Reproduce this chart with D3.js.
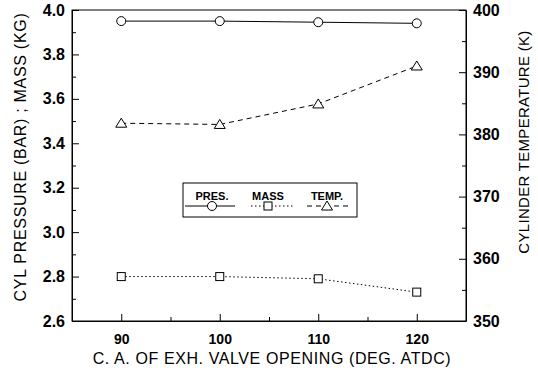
<!DOCTYPE html>
<html>
<head>
<meta charset="utf-8">
<script src="https://cdn.jsdelivr.net/npm/d3@7"></script>
<style>
  body { margin: 0; background: #fff; }
  svg { display: block; font-family: "Liberation Sans", Arial, sans-serif; }
</style>
</head>
<body>
<div id="chart"></div>
<script>
// values
var angles = [90, 100, 110, 120];
var pressure = [3.95, 3.95, 3.945, 3.94];     // bar, left axis
var mass = [2.80, 2.80, 2.79, 2.73];          // kg, left axis
var temperature = [381.8, 381.6, 384.9, 391.0]; // K, right axis

var xTicks = [90, 100, 110, 120];
var leftTicks = [2.6, 2.8, 3.0, 3.2, 3.4, 3.6, 3.8, 4.0];
var rightTicks = [350, 360, 370, 380, 390, 400];
var legendLabels = ["PRES.", "MASS", "TEMP."];

var W = 538, H = 368;
var svg = d3.select('#chart').append('svg')
  .attr('width', W).attr('height', H);

var x = d3.scaleLinear().domain([85, 125]).range([72, 466]);
var yL = d3.scaleLinear().domain([2.6, 4.0]).range([321, 10]);
var yR = d3.scaleLinear().domain([350, 400]).range([321, 10]);

// minor ticks first (no labels)
svg.append('g').attr('transform', 'translate(0,321)')
  .call(d3.axisBottom(x).tickValues([85, 95, 105, 115, 125]).tickSize(-4).tickFormat(''))
  .call(function (g) { g.select('.domain').remove(); });
svg.append('g').attr('transform', 'translate(72,0)')
  .call(d3.axisLeft(yL).tickValues(d3.range(2.7, 4.0, 0.2)).tickSize(-4).tickFormat(''))
  .call(function (g) { g.select('.domain').remove(); });
svg.append('g').attr('transform', 'translate(466,0)')
  .call(d3.axisRight(yR).tickValues([355, 365, 375, 385, 395]).tickSize(-4).tickFormat(''))
  .call(function (g) { g.select('.domain').remove(); });

// major axes
var xAxis = svg.append('g').attr('transform', 'translate(0,321)')
  .call(d3.axisBottom(x).tickValues(xTicks).tickSizeInner(-7).tickSizeOuter(0).tickPadding(13));
xAxis.selectAll('text').style('font-size', '14px').style('font-weight', 'bold');

var lAxis = svg.append('g').attr('transform', 'translate(72,0)')
  .call(d3.axisLeft(yL).tickValues(leftTicks).tickSizeInner(-7).tickSizeOuter(0).tickPadding(7)
    .tickFormat(d3.format('.1f')));
lAxis.selectAll('text').style('font-size', '16px').style('font-weight', 'bold');

var rAxis = svg.append('g').attr('transform', 'translate(466,0)')
  .call(d3.axisRight(yR).tickValues(rightTicks).tickSizeInner(-7).tickSizeOuter(0).tickPadding(7));
rAxis.selectAll('text').style('font-size', '16px').style('font-weight', 'bold');

svg.selectAll('.tick text').attr('fill', '#000');
svg.selectAll('.tick line').attr('stroke', '#000');

// frame
svg.append('rect')
  .attr('x', 72).attr('y', 10).attr('width', 394).attr('height', 311)
  .attr('fill', 'none').attr('stroke', '#000').attr('stroke-width', 1);

// axis titles
svg.append('text')
  .attr('x', 272).attr('y', 364)
  .attr('text-anchor', 'middle')
  .style('font-size', '16px').style('letter-spacing', '0.6px')
  .text('C. A. OF EXH. VALVE OPENING (DEG. ATDC)');

svg.append('text')
  .attr('transform', 'translate(26,157) rotate(-90)')
  .attr('text-anchor', 'middle')
  .style('font-size', '16px').style('letter-spacing', '0.7px')
  .text('CYL PRESSURE (BAR) ; MASS (KG)');

svg.append('text')
  .attr('transform', 'translate(529,142) rotate(-90)')
  .attr('text-anchor', 'middle')
  .style('font-size', '15px').style('letter-spacing', '0.3px')
  .text('CYLINDER TEMPERATURE (K)');

// series
var series = [
  { vals: pressure, y: yL, dash: null, shape: 'circle' },
  { vals: mass, y: yL, dash: '1.5,2.5', shape: 'square' },
  { vals: temperature, y: yR, dash: '5,4', shape: 'triangle' }
];

function marker(g, shape, cx, cy) {
  if (shape === 'circle') {
    g.append('circle').attr('cx', cx).attr('cy', cy).attr('r', 4.5)
      .attr('fill', '#fff').attr('stroke', '#000');
  } else if (shape === 'square') {
    g.append('rect').attr('x', cx - 4).attr('y', cy - 4).attr('width', 8).attr('height', 8)
      .attr('fill', '#fff').attr('stroke', '#000');
  } else {
    g.append('path')
      .attr('d', 'M' + cx + ',' + (cy - 5) + 'L' + (cx + 5.5) + ',' + (cy + 4) + 'L' + (cx - 5.5) + ',' + (cy + 4) + 'Z')
      .attr('fill', '#fff').attr('stroke', '#000');
  }
}

series.forEach(function (s) {
  var line = d3.line()
    .x(function (d, i) { return x(angles[i]); })
    .y(function (d) { return s.y(d); });
  svg.append('path').datum(s.vals)
    .attr('d', line)
    .attr('fill', 'none').attr('stroke', '#000').attr('stroke-width', 1)
    .attr('stroke-dasharray', s.dash);
  var g = svg.append('g');
  s.vals.forEach(function (v, i) { marker(g, s.shape, x(angles[i]), s.y(v)); });
});

// legend
var lg = svg.append('g');
lg.append('rect').attr('x', 183).attr('y', 183).attr('width', 174).attr('height', 34)
  .attr('fill', '#fff').attr('stroke', '#000');
var legX = [[185, 235, 212], [251, 293, 268], [307, 350, 327]];
legendLabels.forEach(function (lab, i) {
  lg.append('text').attr('x', legX[i][2]).attr('y', 200)
    .attr('text-anchor', 'middle')
    .style('font-size', '11px').style('font-weight', 'bold')
    .text(lab);
  lg.append('line').attr('x1', legX[i][0]).attr('x2', legX[i][1])
    .attr('y1', 206).attr('y2', 206)
    .attr('stroke', '#000').attr('stroke-dasharray', series[i].dash);
  marker(lg, series[i].shape, legX[i][2], 206);
});
</script>
</body>
</html>
